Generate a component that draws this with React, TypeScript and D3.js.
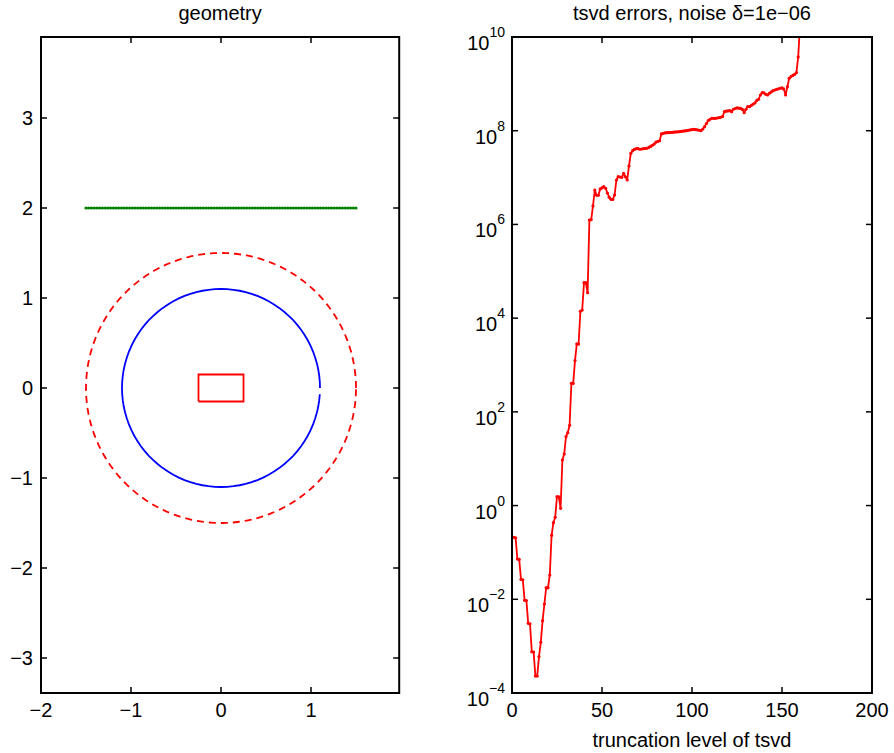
import React from "react";
import * as d3 from "d3";

// ---- figure layout ----
const WIDTH = 894;
const HEIGHT = 753;
const PLOT_TOP = 37;
const PLOT_BOTTOM = 693;
const GEO_LEFT = 41;
const GEO_RIGHT = 399.2;
const ERR_LEFT = 512;
const ERR_RIGHT = 872;
const FONT = "'Liberation Sans', Arial, Helvetica, sans-serif";
const FONT_SIZE = 20;
const TICK_LEN = 6;

// ---- geometry panel ----
const geoXTicks = [-2, -1, 0, 1];
const geoYTicks = [-3, -2, -1, 0, 1, 2, 3];
const sourceX = [-1.5, 1.5];
const sourceY = 2;
const sourceCount = 100;
const obstacleRadius = 1.1;
const obstacleCount = 100;
const measureRadius = 1.5;
const scattererCorners: [number, number][] = [
  [-0.25, -0.15],
  [0.25, -0.15],
  [0.25, 0.15],
  [-0.25, 0.15],
  [-0.25, -0.15],
];

// ---- tsvd error panel ----
const errXTicks = [0, 50, 100, 150, 200];
const errYExponents = [-4, -2, 0, 2, 4, 6, 8, 10];
const tsvdErrors = [
  2.1e-1, 2.05e-1, 7.2e-2, 7.1e-2, 2.67e-2, 2.6e-2, 9.5e-3, 9.4e-3, 3.07e-3, 3.0e-3,
  7.6e-4, 7.5e-4, 2.3e-4, 2.3e-4, 5.95e-4, 1.21e-3, 3.49e-3, 7.93e-3, 1.77e-2, 1.76e-2,
  3.3e-2, 2.32e-1, 4.31e-1, 5.62e-1, 1.55, 1.54, 8.75e-1, 9.39, 1.26e1, 2.95e1,
  3.59e1, 5.17e1, 4.07e2, 4.05e2, 1.24e3, 2.81e3, 2.8e3, 1.4e4, 1.49e4, 5.71e4,
  5.7e4, 3.49e4, 1.24e6, 1.27e6, 2.48e6, 5.43e6, 4.19e6, 4.19e6, 5.71e6, 6.0e6,
  6.39e6, 5.91e6, 4.69e6, 3.8e6, 3.44e6, 3.42e6, 4.25e6, 8.88e6, 1.044e7, 1.029e7,
  1.014e7, 1.234e7, 1.04e7, 8.88e6, 1.77e7, 3.3e7, 3.75e7, 3.98e7, 4.13e7, 4.13e7,
  4.02e7, 4.07e7, 4.13e7, 4.18e7, 4.22e7, 4.39e7, 4.61e7, 4.89e7, 5.21e7, 5.69e7,
  5.89e7, 6.1e7, 8.52e7, 8.81e7, 8.95e7, 9.08e7, 9.11e7, 9.17e7, 9.21e7, 9.3e7,
  9.4e7, 9.49e7, 9.54e7, 9.68e7, 9.77e7, 9.92e7, 1.002e8, 1.022e8, 1.037e8, 1.057e8,
  1.073e8, 1.057e8, 1.037e8, 1.022e8, 1.002e8, 1.089e8, 1.22e8, 1.427e8, 1.638e8, 1.754e8,
  1.843e8, 1.84e8, 1.84e8, 1.87e8, 1.9e8, 1.936e8, 2.014e8, 2.55e8, 2.61e8, 2.64e8,
  2.68e8, 2.55e8, 2.87e8, 2.98e8, 3.06e8, 3.03e8, 3.01e8, 2.84e8, 2.43e8, 2.87e8,
  3.29e8, 3.26e8, 3.49e8, 3.72e8, 3.91e8, 4.42e8, 4.69e8, 5.79e8, 6.48e8, 6.39e8,
  5.99e8, 5.79e8, 6.3e8, 6.71e8, 7.15e8, 7.4e8, 7.66e8, 7.85e8, 8.05e8, 8.17e8,
  7.78e8, 5.79e8, 8.7e8, 1.315e9, 1.437e9, 1.51e9, 1.586e9, 1.732e9, 3.75e9, 1.81e10,
];
const truncationLevels = tsvdErrors.map((_, i) => i + 1);

const fmt = (v: number) => (v < 0 ? "\u2212" + Math.abs(v) : String(v));

function Frame({ x0, x1 }: { x0: number; x1: number }) {
  return (
    <rect
      x={x0}
      y={PLOT_TOP}
      width={x1 - x0}
      height={PLOT_BOTTOM - PLOT_TOP}
      fill="none"
      stroke="#000"
      strokeWidth={2}
    />
  );
}

function GeometryPanel() {
  const x = d3.scaleLinear().domain([-2, 1.98]).range([GEO_LEFT, GEO_RIGHT]);
  const y = d3
    .scaleLinear()
    .domain([(388 - PLOT_BOTTOM) / 90, (388 - PLOT_TOP) / 90])
    .range([PLOT_BOTTOM, PLOT_TOP]);
  const line = d3
    .line<[number, number]>()
    .x((d) => x(d[0]))
    .y((d) => y(d[1]));

  const sourcePts: [number, number][] = d3
    .range(sourceCount)
    .map((i) => [sourceX[0] + ((sourceX[1] - sourceX[0]) * i) / (sourceCount - 1), sourceY]);
  const obstaclePts: [number, number][] = d3
    .range(obstacleCount)
    .map((i) => {
      const t = (2 * Math.PI * i) / obstacleCount;
      return [obstacleRadius * Math.cos(t), obstacleRadius * Math.sin(t)];
    });
  const measurePts: [number, number][] = d3.range(361).map((i) => {
    const t = (2 * Math.PI * i) / 360;
    return [measureRadius * Math.cos(t), measureRadius * Math.sin(t)];
  });

  return (
    <g>
      <text x={(GEO_LEFT + GEO_RIGHT) / 2} y={19.5} textAnchor="middle" fontSize={FONT_SIZE}>
        geometry
      </text>
      <path d={line(measurePts) || ""} fill="none" stroke="#ff0000" strokeWidth={1.8} strokeDasharray="7,5" />
      <path d={line(obstaclePts) || ""} fill="none" stroke="#0000ff" strokeWidth={1.8} />
      <path d={line(scattererCorners) || ""} fill="none" stroke="#ff0000" strokeWidth={1.8} />
      <path d={line(sourcePts) || ""} fill="none" stroke="#008000" strokeWidth={1.5} />
      {sourcePts.map((p, i) => (
        <circle key={i} cx={x(p[0])} cy={y(p[1])} r={1.6} fill="#008000" />
      ))}
      <Frame x0={GEO_LEFT} x1={GEO_RIGHT} />
      {geoXTicks.map((t) => (
        <g key={"x" + t}>
          <line x1={x(t)} x2={x(t)} y1={PLOT_BOTTOM} y2={PLOT_BOTTOM - TICK_LEN} stroke="#000" strokeWidth={1.5} />
          <line x1={x(t)} x2={x(t)} y1={PLOT_TOP} y2={PLOT_TOP + TICK_LEN} stroke="#000" strokeWidth={1.5} />
          <text x={x(t)} y={717} textAnchor="middle" fontSize={FONT_SIZE}>
            {fmt(t)}
          </text>
        </g>
      ))}
      {geoYTicks.map((t) => (
        <g key={"y" + t}>
          <line x1={GEO_LEFT} x2={GEO_LEFT + TICK_LEN} y1={y(t)} y2={y(t)} stroke="#000" strokeWidth={1.5} />
          <line x1={GEO_RIGHT} x2={GEO_RIGHT - TICK_LEN} y1={y(t)} y2={y(t)} stroke="#000" strokeWidth={1.5} />
          <text x={GEO_LEFT - 8} y={y(t) + 7} textAnchor="end" fontSize={FONT_SIZE}>
            {fmt(t)}
          </text>
        </g>
      ))}
    </g>
  );
}

function ErrorPanel() {
  const x = d3.scaleLinear().domain([0, 200]).range([ERR_LEFT, ERR_RIGHT]);
  const y = d3.scaleLog().domain([1e-4, 1e10]).range([PLOT_BOTTOM, PLOT_TOP]);
  const pts = truncationLevels.map((k, i) => [k, tsvdErrors[i]] as [number, number]);
  const line = d3
    .line<[number, number]>()
    .x((d) => x(d[0]))
    .y((d) => y(d[1]));

  return (
    <g>
      <defs>
        <clipPath id="errClip">
          <rect x={ERR_LEFT} y={PLOT_TOP} width={ERR_RIGHT - ERR_LEFT} height={PLOT_BOTTOM - PLOT_TOP} />
        </clipPath>
      </defs>
      <text x={(ERR_LEFT + ERR_RIGHT) / 2} y={19.5} textAnchor="middle" fontSize={FONT_SIZE}>
        tsvd errors, noise {"\u03b4"}=1e{"\u2212"}06
      </text>
      <g clipPath="url(#errClip)">
        <path d={line(pts) || ""} fill="none" stroke="#ff0000" strokeWidth={1.8} strokeLinejoin="round" />
        {pts.map((p, i) => (
          <circle key={i} cx={x(p[0])} cy={y(p[1])} r={1.6} fill="#ff0000" />
        ))}
      </g>
      <Frame x0={ERR_LEFT} x1={ERR_RIGHT} />
      {errXTicks.map((t) => (
        <g key={"x" + t}>
          <line x1={x(t)} x2={x(t)} y1={PLOT_BOTTOM} y2={PLOT_BOTTOM - TICK_LEN} stroke="#000" strokeWidth={1.5} />
          <line x1={x(t)} x2={x(t)} y1={PLOT_TOP} y2={PLOT_TOP + TICK_LEN} stroke="#000" strokeWidth={1.5} />
          <text x={x(t)} y={717} textAnchor="middle" fontSize={FONT_SIZE}>
            {t}
          </text>
        </g>
      ))}
      {errYExponents.map((e) => {
        const yy = y(Math.pow(10, e));
        return (
          <g key={"y" + e}>
            <line x1={ERR_LEFT} x2={ERR_LEFT + TICK_LEN} y1={yy} y2={yy} stroke="#000" strokeWidth={1.5} />
            <line x1={ERR_RIGHT} x2={ERR_RIGHT - TICK_LEN} y1={yy} y2={yy} stroke="#000" strokeWidth={1.5} />
            <text x={ERR_LEFT - 7} y={yy + 13} textAnchor="end" fontSize={FONT_SIZE}>
              <tspan>10</tspan>
              <tspan dy={-13} fontSize={14}>
                {fmt(e)}
              </tspan>
            </text>
          </g>
        );
      })}
      <text x={(ERR_LEFT + ERR_RIGHT) / 2} y={747} textAnchor="middle" fontSize={FONT_SIZE}>
        truncation level of tsvd
      </text>
    </g>
  );
}

export default function App() {
  return (
    <svg
      width={WIDTH}
      height={HEIGHT}
      viewBox={`0 0 ${WIDTH} ${HEIGHT}`}
      style={{ position: "absolute", left: 0, top: 0, background: "#fff" }}
      fontFamily={FONT}
      fill="#000"
    >
      <rect width={WIDTH} height={HEIGHT} fill="#fff" />
      <GeometryPanel />
      <ErrorPanel />
    </svg>
  );
}
